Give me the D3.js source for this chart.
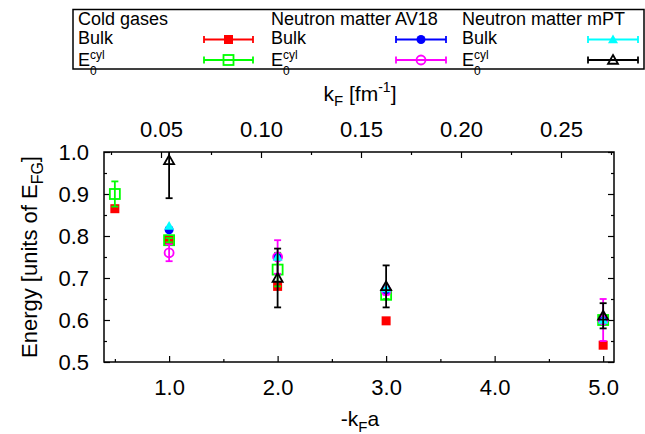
<!DOCTYPE html>
<html><head><meta charset="utf-8">
<script src="https://cdn.jsdelivr.net/npm/d3@7"></script>
<style>body{margin:0;background:#fff}svg{display:block}text{font-family:"Liberation Sans",Arial,sans-serif}</style>
</head><body><svg id="c" width="645" height="434"></svg>
<script>
// ---- data ----
const coldX = [0.5, 1, 2, 3, 5];
const coldBulk = [0.865, 0.79, 0.68, 0.598, 0.54];
const coldBulkErr = [0, 0, 0, 0, 0];
const coldCyl = [0.90, 0.79, 0.72, 0.66, 0.60];
const coldCylErr = [0.03, 0.005, 0.04, 0.01, 0.01];
const nmX = [1, 2, 3, 5];
const av18Bulk = [0.815, 0.75, 0.67, 0.60];
const av18BulkErr = [0, 0, 0, 0];
const av18Cyl = [0.76, 0.75, 0.67, 0.60];
const av18CylErr = [0.02, 0.04, 0.01, 0.05];
const mptBulk = [0.824, 0.75, 0.675, 0.60];
const mptBulkErr = [0, 0, 0, 0];
const mptCyl = [0.98, 0.70, 0.68, 0.61];
const mptCylErr = [0.09, 0.07, 0.05, 0.03];
const xTicks = [1, 2, 3, 4, 5];
const xTickLabels = ["1.0", "2.0", "3.0", "4.0", "5.0"];
const xMinor = [0.5, 1.5, 2.5, 3.5, 4.5];
const topTicks = [0.05, 0.10, 0.15, 0.20, 0.25];
const topMinor = [0.025, 0.075, 0.125, 0.175, 0.225, 0.275];
const yTicks = [0.5, 0.6, 0.7, 0.8, 0.9, 1.0];
const yMinor = [0.55, 0.65, 0.75, 0.85, 0.95];

const series = [
  {name:"Bulk", x:coldX, y:coldBulk, e:coldBulkErr, color:"#ff0000", shape:"square", fill:true},
  {name:"cyl", x:coldX, y:coldCyl, e:coldCylErr, color:"#00ff00", shape:"square", fill:false},
  {name:"Bulk", x:nmX, y:av18Bulk, e:av18BulkErr, color:"#0000ff", shape:"circle", fill:true},
  {name:"cyl", x:nmX, y:av18Cyl, e:av18CylErr, color:"#ff00ff", shape:"circle", fill:false},
  {name:"Bulk", x:nmX, y:mptBulk, e:mptBulkErr, color:"#00ffff", shape:"triangle", fill:true},
  {name:"cyl", x:nmX, y:mptCyl, e:mptCylErr, color:"#000000", shape:"triangle", fill:false}
];
const groups = ["Cold gases", "Neutron matter AV18", "Neutron matter mPT"];

// ---- scales ----
const L = 104, R = 614, T = 152, B = 362;
const x = d3.scaleLinear().domain([0.4, 5.1]).range([L, R]);
const xt = d3.scaleLinear().domain([0.0215, 0.2765]).range([L, R]);
const y = d3.scaleLinear().domain([0.5, 1.0]).range([B, T]);

const svg = d3.select("#c");
svg.append("defs").append("clipPath").attr("id","clip")
  .append("rect").attr("x",L).attr("y",T).attr("width",R-L).attr("height",B-T);

function styleAxis(g, fs){
  g.select(".domain").remove();
  g.selectAll("line").attr("stroke","#000").attr("stroke-width",1.2);
  g.selectAll("text").attr("font-size",fs).attr("fill","#000");
}
// bottom
svg.append("g").attr("transform",`translate(0,${B})`)
  .call(d3.axisBottom(x).tickValues(xTicks).tickFormat((d,i)=>xTickLabels[i]).tickSizeInner(-6).tickSizeOuter(0).tickPadding(0))
  .call(g=>{styleAxis(g,22); g.selectAll("text").attr("dy",null).attr("y",33);});
svg.append("g").attr("transform",`translate(0,${B})`)
  .call(d3.axisBottom(x).tickValues(xMinor).tickFormat("").tickSizeInner(-3).tickSizeOuter(0))
  .call(g=>styleAxis(g,22));
// top
svg.append("g").attr("transform",`translate(0,${T})`)
  .call(d3.axisTop(xt).tickValues(topTicks).tickFormat(d3.format(".2f")).tickSizeInner(-6).tickSizeOuter(0).tickPadding(0))
  .call(g=>{styleAxis(g,22); g.selectAll("text").attr("y",-15);});
svg.append("g").attr("transform",`translate(0,${T})`)
  .call(d3.axisTop(xt).tickValues(topMinor.filter(v=>v<0.2765)).tickFormat("").tickSizeInner(-3).tickSizeOuter(0))
  .call(g=>styleAxis(g,22));
// left
svg.append("g").attr("transform",`translate(${L},0)`)
  .call(d3.axisLeft(y).tickValues(yTicks).tickFormat(d3.format(".1f")).tickSizeInner(-6).tickSizeOuter(0).tickPadding(0))
  .call(g=>{styleAxis(g,22); g.selectAll("text").attr("x",-15).attr("dy","0.36em");});
svg.append("g").attr("transform",`translate(${L},0)`)
  .call(d3.axisLeft(y).tickValues(yMinor).tickFormat("").tickSizeInner(-3).tickSizeOuter(0))
  .call(g=>styleAxis(g,22));
// right
svg.append("g").attr("transform",`translate(${R},0)`)
  .call(d3.axisRight(y).tickValues(yTicks).tickFormat("").tickSizeInner(-6).tickSizeOuter(0))
  .call(g=>styleAxis(g,22));
svg.append("g").attr("transform",`translate(${R},0)`)
  .call(d3.axisRight(y).tickValues(yMinor).tickFormat("").tickSizeInner(-3).tickSizeOuter(0))
  .call(g=>styleAxis(g,22));
// frame
svg.append("rect").attr("x",L).attr("y",T).attr("width",R-L).attr("height",B-T)
  .attr("fill","none").attr("stroke","#000").attr("stroke-width",1.5);

// axis titles
const tl = svg.append("text").attr("x",360).attr("y",101).attr("text-anchor","middle").attr("font-size",21);
tl.append("tspan").text("k");
tl.append("tspan").attr("font-size",15).attr("dy",5).text("F");
tl.append("tspan").attr("dy",-5).text(" [fm");
tl.append("tspan").attr("font-size",14).attr("dy",-9).text("-1");
tl.append("tspan").attr("dy",9).text("]");

const bl = svg.append("text").attr("x",360).attr("y",426).attr("text-anchor","middle").attr("font-size",21);
bl.append("tspan").text("-k");
bl.append("tspan").attr("font-size",15).attr("dy",6).text("F");
bl.append("tspan").attr("dy",-6).text("a");

const yl = svg.append("text").attr("transform","translate(37,257) rotate(-90)").attr("text-anchor","middle").attr("font-size",22);
yl.append("tspan").text("Energy [units of E");
yl.append("tspan").attr("font-size",16).attr("dy",6).text("FG");
yl.append("tspan").attr("dy",-6).text("]");

// markers
function marker(g, s, cx, cy){
  const fill = s.fill ? s.color : "none";
  if (s.shape==="square"){
    const h = s.fill?4.5:5;
    g.append("rect").attr("x",cx-h).attr("y",cy-h).attr("width",2*h).attr("height",2*h)
      .attr("fill",fill).attr("stroke",s.color).attr("stroke-width",s.fill?0:1.8);
  } else if (s.shape==="circle"){
    g.append("circle").attr("cx",cx).attr("cy",cy).attr("r",4.5)
      .attr("fill",fill).attr("stroke",s.color).attr("stroke-width",s.fill?0:1.8);
  } else {
    const h = 5;
    g.append("path").attr("d",`M${cx},${cy-h}L${cx+h},${cy+h*0.75}L${cx-h},${cy+h*0.75}Z`)
      .attr("fill",fill).attr("stroke",s.color).attr("stroke-width",s.fill?0:1.8);
  }
}

const plot = svg.append("g");
series.forEach(s=>{
  const g = plot.append("g");
  const eg = g.append("g").attr("clip-path","url(#clip)").attr("stroke",s.color).attr("stroke-width",1.8);
  s.x.forEach((xv,i)=>{
    const e = s.e[i];
    if (e>0){
      const cx = x(xv), y1 = y(s.y[i]+e), y2 = y(s.y[i]-e);
      eg.append("line").attr("x1",cx).attr("x2",cx).attr("y1",y1).attr("y2",y2);
      eg.append("line").attr("x1",cx-3.5).attr("x2",cx+3.5).attr("y1",y1).attr("y2",y1);
      eg.append("line").attr("x1",cx-3.5).attr("x2",cx+3.5).attr("y1",y2).attr("y2",y2);
    }
    marker(g, s, x(xv), y(s.y[i]));
  });
});

// legend
svg.append("rect").attr("x",73).attr("y",9.5).attr("width",571).attr("height",59.5)
  .attr("fill","none").attr("stroke","#000").attr("stroke-width",1.5);
const colX = [78, 271, 462];
const sampleX = [[204,253],[396,446],[588,638]];
const rowText = [44, 66];
const rowLine = [39.5, 60];
groups.forEach((gname,gi)=>{
  svg.append("text").attr("x",colX[gi]).attr("y",25).attr("font-size",18).text(gname);
  [0,1].forEach(r=>{
    const s = series[gi*2+r];
    if (r===0){
      svg.append("text").attr("x",colX[gi]).attr("y",rowText[0]).attr("font-size",18).text(s.name);
    } else {
      svg.append("text").attr("x",colX[gi]).attr("y",rowText[1]).attr("font-size",18).text("E");
      svg.append("text").attr("x",colX[gi]+12).attr("y",rowText[1]-7).attr("font-size",12).text(s.name);
      svg.append("text").attr("x",colX[gi]+12).attr("y",rowText[1]+9).attr("font-size",12).text("0");
    }
    const [a,b] = sampleX[gi], yy = rowLine[r];
    const lg = svg.append("g").attr("stroke",s.color).attr("stroke-width",1.8);
    lg.append("line").attr("x1",a).attr("x2",b).attr("y1",yy).attr("y2",yy);
    lg.append("line").attr("x1",a).attr("x2",a).attr("y1",yy-3.5).attr("y2",yy+3.5);
    lg.append("line").attr("x1",b).attr("x2",b).attr("y1",yy-3.5).attr("y2",yy+3.5);
    marker(svg, s, (a+b)/2, yy);
  });
});
</script></body></html>
